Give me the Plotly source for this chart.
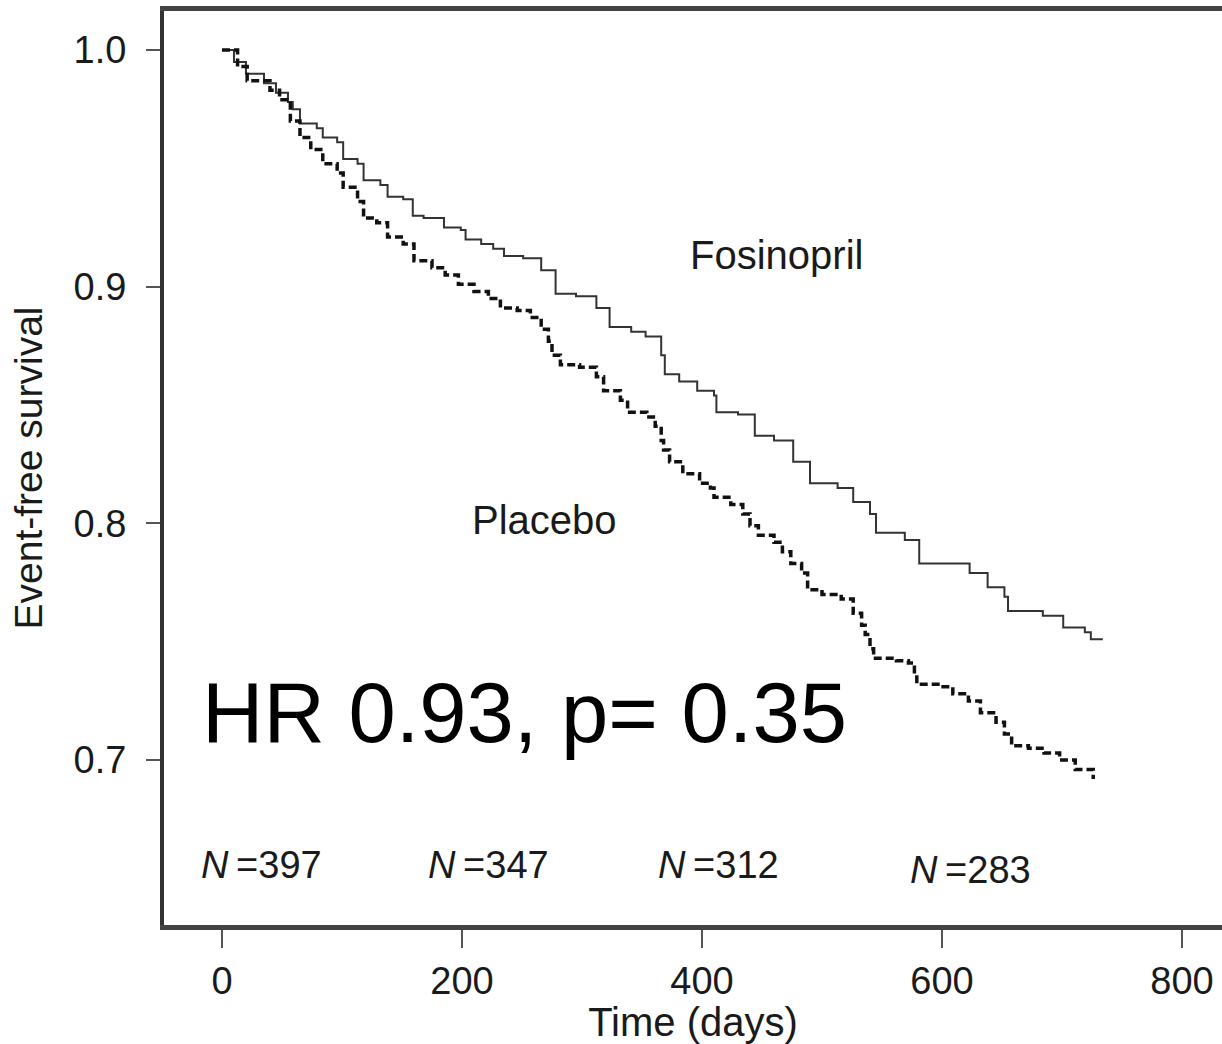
import plotly.graph_objects as go

# Kaplan-Meier curves (time in days, event-free survival)
fos_t = [0, 10, 20, 35, 45, 55, 59, 65, 79, 84, 96, 101, 113, 118, 132, 138, 151, 159, 168, 185, 199,
         203, 216, 226, 235, 251, 266, 278, 295, 312, 323, 341, 353, 366, 369, 381, 396, 410, 412,
         430, 444, 460, 476, 490, 513, 526, 540, 545, 569, 581, 612, 623, 638, 652, 655, 684, 701,
         719, 724, 734]
fos_s = [1.0, 0.995, 0.990, 0.986, 0.982, 0.978, 0.975, 0.969, 0.967, 0.963, 0.961, 0.954, 0.952, 0.945,
         0.943, 0.938, 0.937, 0.930, 0.929, 0.925, 0.924, 0.920, 0.918, 0.916, 0.913, 0.912, 0.907,
         0.897, 0.896, 0.891, 0.883, 0.881, 0.879, 0.871, 0.863, 0.860, 0.856, 0.854, 0.847, 0.846,
         0.837, 0.835, 0.826, 0.817, 0.815, 0.809, 0.804, 0.796, 0.793, 0.783, 0.783, 0.779, 0.773,
         0.769, 0.763, 0.761, 0.756, 0.754, 0.751, 0.751]

pla_t = [0, 13, 21, 40, 48, 57, 65, 74, 84, 96, 101, 113, 118, 129, 138, 151, 160, 175, 186, 197,
         210, 222, 232, 246, 257, 266, 272, 275, 282, 298, 312, 318, 332, 338, 354, 361, 366, 368,
         373, 384, 398, 407, 410, 424, 434, 440, 447, 460, 467, 474, 483, 488, 500, 516, 526, 533,
         536, 540, 543, 562, 572, 577, 579, 599, 609, 622, 632, 645, 652, 658, 672, 685, 698, 711, 726]
pla_s = [1.0, 0.993, 0.987, 0.983, 0.979, 0.970, 0.963, 0.958, 0.952, 0.948, 0.942, 0.936, 0.929, 0.927,
         0.921, 0.918, 0.911, 0.908, 0.905, 0.901, 0.898, 0.895, 0.891, 0.890, 0.887, 0.882, 0.877,
         0.871, 0.867, 0.866, 0.862, 0.856, 0.852, 0.847, 0.845, 0.841, 0.835, 0.831, 0.826, 0.821,
         0.817, 0.815, 0.811, 0.808, 0.804, 0.799, 0.795, 0.792, 0.788, 0.783, 0.779, 0.772, 0.770,
         0.768, 0.762, 0.757, 0.753, 0.747, 0.743, 0.742, 0.741, 0.736, 0.732, 0.731, 0.728, 0.725,
         0.720, 0.716, 0.711, 0.706, 0.705, 0.703, 0.700, 0.696, 0.692]

x_ticks = [0, 200, 400, 600, 800]
y_ticks = [0.7, 0.8, 0.9, 1.0]
y_tick_labels = ["0.7", "0.8", "0.9", "1.0"]

n_times = [33, 222, 414, 624]
n_labels = ["397", "347", "312", "283"]

FONT = "Liberation Sans, Arial, sans-serif"
TXT = "#1a1a1a"

fig = go.Figure()
fig.add_trace(go.Scatter(x=fos_t, y=fos_s, mode="lines", line_shape="hv", name="Fosinopril",
                         line=dict(color="#333333", width=2)))
fig.add_trace(go.Scatter(x=pla_t, y=pla_s, mode="lines", line_shape="hv", name="Placebo",
                         line=dict(color="#111111", width=3.5, dash="8px,4px")))

fig.add_annotation(x=462, y=0.9134, text="Fosinopril", showarrow=False,
                   font=dict(family=FONT, size=40, color=TXT))
fig.add_annotation(x=269, y=0.8014, text="Placebo", showarrow=False,
                   font=dict(family=FONT, size=40, color=TXT))
fig.add_annotation(x=-18.5, y=0.7203, text="HR 0.93, p= 0.35", showarrow=False, xanchor="left",
                   font=dict(family=FONT, size=85, color="#000000"))
for i, (t, lab) in enumerate(zip(n_times, n_labels)):
    fig.add_annotation(x=t, y=0.6557 if i < 3 else 0.6536, text="<i>N</i>\u2009=" + lab,
                       showarrow=False, font=dict(family=FONT, size=38, color=TXT))

fig.update_layout(
    width=1222, height=1044,
    margin=dict(l=164, r=0, t=11, b=119),
    paper_bgcolor="white", plot_bgcolor="white",
    showlegend=False,
    font=dict(family=FONT, color=TXT),
)
fig.update_xaxes(range=[-48.3, 833.3], tickvals=x_ticks, ticks="outside", ticklen=18, tickwidth=2,
                 tickcolor="#555555", showline=True, linewidth=5, linecolor="#444444", mirror=True,
                 showgrid=False, zeroline=False, automargin=False,
                 tickfont=dict(size=38, family=FONT, color=TXT),
                 title=dict(text="Time (days)", font=dict(size=40, family=FONT, color=TXT),
                            standoff=4))
fig.update_yaxes(range=[0.6303, 1.0165], tickvals=y_ticks, ticktext=y_tick_labels, ticks="outside",
                 ticklen=14, tickwidth=2, tickcolor="#555555", showline=True, linewidth=4,
                 linecolor="#333333", mirror=False, showgrid=False, zeroline=False, automargin=False,
                 ticklabelstandoff=12,
                 tickfont=dict(size=38, family=FONT, color=TXT),
                 title=dict(text="Event-free survival", font=dict(size=39, family=FONT, color=TXT),
                            standoff=20))

fig.write_html("out.html", config={"displayModeBar": False},
               post_script="document.body.style.margin='0';")
